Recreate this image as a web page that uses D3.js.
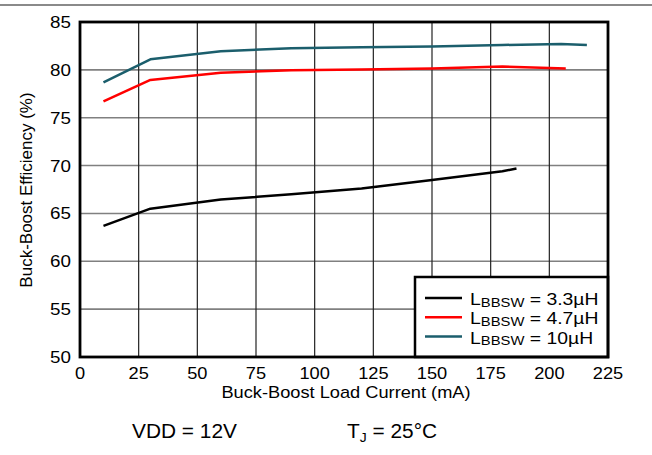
<!DOCTYPE html>
<html>
<head>
<meta charset="utf-8">
<script src="https://cdn.jsdelivr.net/npm/d3@7"></script>
<style>
  body { margin: 0; background: #fff; }
  text { font-family: "Liberation Sans", Arial, sans-serif; fill: #000; }
</style>
</head>
<body>
<div id="chart"></div>
<script>
// load current (mA) vs efficiency (%)
let current33 = [10, 30, 60, 90, 120, 150, 180, 186];
let eff33 = [63.7, 65.5, 66.45, 67.0, 67.6, 68.5, 69.4, 69.7];
let current47 = [10, 30, 60, 90, 120, 150, 180, 207];
let eff47 = [76.7, 78.95, 79.7, 79.95, 80.05, 80.15, 80.35, 80.15];
let current10 = [10, 30, 60, 90, 120, 150, 180, 205, 216];
let eff10 = [78.7, 81.1, 81.95, 82.25, 82.35, 82.45, 82.6, 82.7, 82.6];

let xTicks = [0, 25, 50, 75, 100, 125, 150, 175, 200, 225];
let yTicks = [50, 55, 60, 65, 70, 75, 80, 85];
let seriesNames = ["3.3", "4.7", "10"];
let colors = ["#000000", "#ff0000", "#1b5e6c"];

let width = 652, height = 455;
let plotLeft = 80, plotRight = 608, plotTop = 22, plotBottom = 357;
let sx = 1.14; // the original lettering is a bit stretched sideways

let svg = d3.select("#chart").append("svg")
    .attr("width", width)
    .attr("height", height);

// horizontal text, stretched like the source
function hText(parent, px, py, size, anchor, stretch) {
    return parent.append("text")
        .attr("transform", "translate(" + px + "," + py + ") scale(" + (stretch || sx) + ",1)")
        .attr("text-anchor", anchor || "start")
        .attr("font-size", size);
}

// grey rule across the top of the page
svg.append("line")
    .attr("x1", 0).attr("x2", width)
    .attr("y1", 5).attr("y2", 5)
    .attr("stroke", "#8a8a8a").attr("stroke-width", 2);

let x = d3.scaleLinear().domain([0, 225]).range([plotLeft, plotRight]);
let y = d3.scaleLinear().domain([50, 85]).range([plotBottom, plotTop]);

// grid
svg.append("g").selectAll("line")
    .data(yTicks.slice(1, -1))
    .enter().append("line")
    .attr("x1", plotLeft).attr("x2", plotRight)
    .attr("y1", d => y(d)).attr("y2", d => y(d))
    .attr("stroke", "#808080").attr("stroke-width", 1.6);

svg.append("g").selectAll("line")
    .data(xTicks.slice(1, -1))
    .enter().append("line")
    .attr("x1", d => x(d)).attr("x2", d => x(d))
    .attr("y1", plotTop).attr("y2", plotBottom)
    .attr("stroke", "#222").attr("stroke-width", 1.2);

// tick labels
let gy = svg.append("g");
yTicks.forEach(function (d) {
    hText(gy, plotLeft - 9, y(d) + 6, 16.5, "end").text(d);
});

let gx = svg.append("g");
xTicks.forEach(function (d) {
    hText(gx, x(d), 378.5, 16, "middle").text(d);
});

// series
let line = d3.line()
    .x(d => x(d[0]))
    .y(d => y(d[1]));

let series = [
    d3.zip(current33, eff33),
    d3.zip(current47, eff47),
    d3.zip(current10, eff10)
];

svg.append("g").selectAll("path")
    .data(series)
    .enter().append("path")
    .attr("d", line)
    .attr("fill", "none")
    .attr("stroke", (d, i) => colors[i])
    .attr("stroke-width", 2.5)
    .attr("stroke-linejoin", "round");

// legend box
let lg = svg.append("g");
lg.append("rect")
    .attr("x", 415).attr("y", 277)
    .attr("width", plotRight - 415).attr("height", plotBottom - 277)
    .attr("fill", "#fff")
    .attr("stroke", "#000").attr("stroke-width", 2.5);

seriesNames.forEach(function (name, i) {
    let ly = 298 + i * 19.3;
    lg.append("line")
        .attr("x1", 425).attr("x2", 462)
        .attr("y1", ly).attr("y2", ly)
        .attr("stroke", colors[i]).attr("stroke-width", 2.5);
    let t = hText(lg, 470, ly + 7, 17, "start");
    t.append("tspan").text("L");
    t.append("tspan").attr("font-size", 13).attr("dy", 1.5).text("BBSW");
    t.append("tspan").attr("dy", -1.5).text(" = " + name + "\u00b5H");
});

// frame
svg.append("rect")
    .attr("x", plotLeft).attr("y", plotTop)
    .attr("width", plotRight - plotLeft).attr("height", plotBottom - plotTop)
    .attr("fill", "none")
    .attr("stroke", "#000").attr("stroke-width", 2.8);

// axis titles
hText(svg, 346, 397.5, 16, "middle").text("Buck-Boost Load Current (mA)");

svg.append("text")
    .attr("transform", "translate(32,190) rotate(-90)")
    .attr("text-anchor", "middle")
    .attr("font-size", 17)
    .text("Buck-Boost Efficiency (%)");

// conditions
hText(svg, 132, 438, 19.5, "start", 1.07).text("VDD = 12V");

let tj = hText(svg, 347, 438, 19.5, "start", 1.07);
tj.append("tspan").text("T");
tj.append("tspan").attr("font-size", 13).attr("dy", 4).text("J");
tj.append("tspan").attr("dy", -4).text(" = 25\u00b0C");
</script>
</body>
</html>
